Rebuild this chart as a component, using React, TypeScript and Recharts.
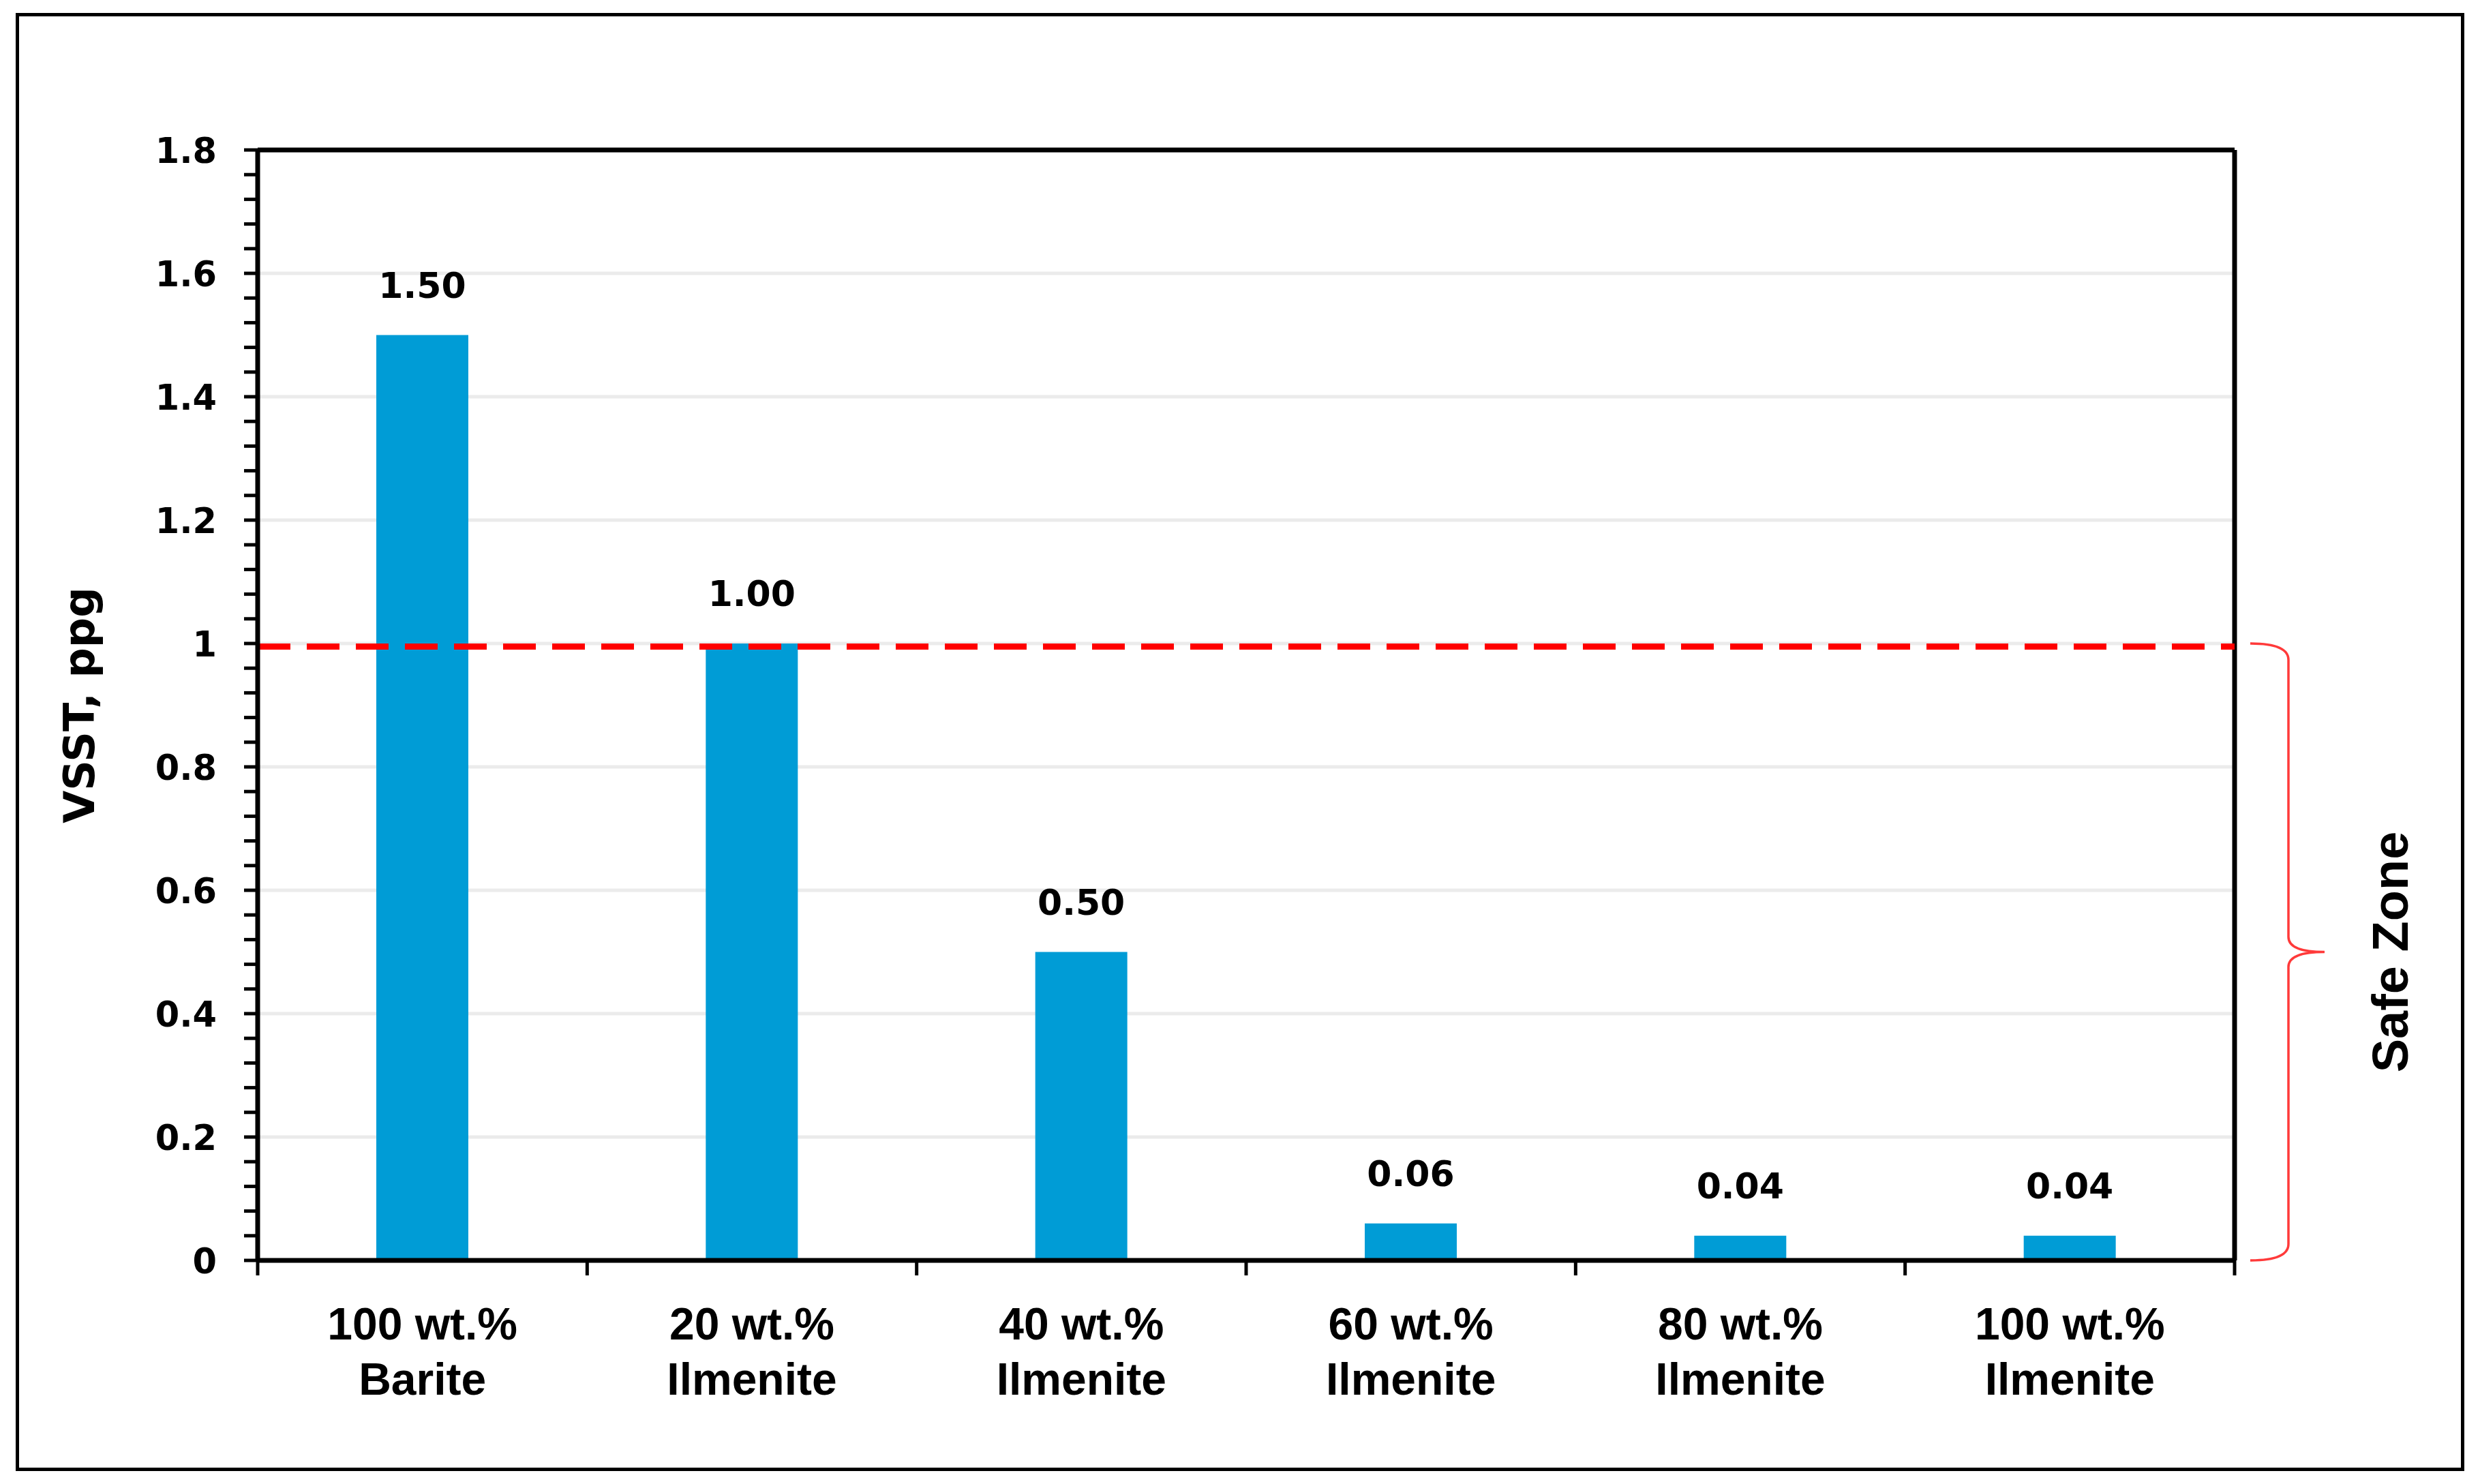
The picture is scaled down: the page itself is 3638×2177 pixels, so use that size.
import React from 'react';
import { BarChart, Bar, XAxis, YAxis, CartesianGrid, ReferenceLine, ReferenceArea, LabelList, Label } from 'recharts';

// VSST of each weighting-material blend
const concentrations = ['100 wt.%', '20 wt.%', '40 wt.%', '60 wt.%', '80 wt.%', '100 wt.%'];
const materials = ['Barite', 'Ilmenite', 'Ilmenite', 'Ilmenite', 'Ilmenite', 'Ilmenite'];
const vsst = [1.5, 1.0, 0.5, 0.06, 0.04, 0.04];

const majorTicks = [0, 0.2, 0.4, 0.6, 0.8, 1, 1.2, 1.4, 1.6, 1.8];
const minorTicks = Array.from({ length: 46 }, (_, i) => Math.round(i * 4) / 100).filter((t) => !majorTicks.includes(t));
const safeLimit = 1;
const yMax = 1.8;

const data = vsst.map((v, i) => ({ name: `${concentrations[i]}|${materials[i]}`, value: v }));

const W = 3622;
const H = 2160;
const NUM_FONT = '"DejaVu Sans", Verdana, sans-serif';
const NARROW_FONT = '"Liberation Sans Narrow", "Liberation Sans", Arial, sans-serif';

const XTick = ({ x, y, payload }: any) => {
  const [a, b] = String(payload.value).split('|');
  return (
    <g>
      <text x={x} y={y + 114} textAnchor="middle" fontFamily={NARROW_FONT} fontWeight="bold" fontSize={66} fill="#000">
        {a}
      </text>
      <text x={x} y={y + 195} textAnchor="middle" fontFamily={NARROW_FONT} fontWeight="bold" fontSize={66} fill="#000">
        {b}
      </text>
    </g>
  );
};

const YTick = ({ x, y, payload }: any) => (
  <text x={x} y={y} dy={19} textAnchor="end" fontFamily={NUM_FONT} fontWeight="bold" fontSize={51} fill="#000">
    {String(payload.value)}
  </text>
);

// short minor tick to the left of the y axis
const MinorTick = (p: any) => {
  const left = Math.min(p.x1, p.x2);
  return <line x1={left - 20} x2={left} y1={p.y1} y2={p.y1} stroke="#000" strokeWidth={5} />;
};

// category boundary ticks under the x axis
const EdgeTick = (p: any) => {
  const bottom = Math.max(p.y1, p.y2);
  return <line x1={p.x1} x2={p.x1} y1={bottom} y2={bottom + 22} stroke="#000" strokeWidth={5} />;
};

const Brace = ({ x, y, width, height }: any) => {
  const r = x + width;
  const t = y;
  const b = y + height;
  const m = (t + b) / 2;
  const s = r + 23;
  const v = r + 79;
  const tip = r + 132;
  const d = `M${s},${t} Q${v},${t} ${v},${t + 24} L${v},${m - 22} Q${v},${m} ${tip},${m} Q${v},${m} ${v},${m + 22} L${v},${b - 24} Q${v},${b} ${s},${b}`;
  const tx = r + 228;
  return (
    <g>
      <path d={d} fill="none" stroke="#FF3A3A" strokeWidth={3.5} />
      <text
        x={tx}
        y={m}
        dy="0.35em"
        transform={`rotate(-90 ${tx} ${m})`}
        textAnchor="middle"
        fontFamily={NARROW_FONT}
        fontWeight="bold"
        fontSize={74}
        fill="#000"
      >
        Safe Zone
      </text>
    </g>
  );
};

const YTitle = ({ viewBox }: any) => {
  const cx = viewBox.x + 38;
  const cy = viewBox.y + viewBox.height / 2;
  return (
    <text
      x={cx}
      y={cy}
      dy="0.35em"
      transform={`rotate(-90 ${cx} ${cy})`}
      textAnchor="middle"
      fontFamily={NUM_FONT}
      fontWeight="bold"
      fontSize={62}
      fill="#000"
    >
      VSST, ppg
    </text>
  );
};

export default function App() {
  const last = data[data.length - 1].name;
  return (
    <div style={{ position: 'relative', width: W, height: H }}>
      <div
        style={{
          position: 'absolute',
          left: 15,
          top: 11,
          width: 3592,
          height: 2139,
          border: '5px solid #000',
          boxSizing: 'border-box',
        }}
      />
      <BarChart
        width={W}
        height={H}
        data={data}
        margin={{ top: 212, right: 352, bottom: 119, left: 70 }}
        barCategoryGap="36%"
        style={{ position: 'absolute', left: 0, top: 0 }}
      >
        <CartesianGrid vertical={false} stroke="#EBEBEB" strokeWidth={5} />
        <XAxis
          dataKey="name"
          interval={0}
          tickLine={false}
          tickSize={0}
          height={200}
          tick={<XTick />}
          axisLine={{ stroke: '#000', strokeWidth: 7 }}
        />
        <YAxis
          domain={[0, yMax]}
          ticks={majorTicks}
          interval={0}
          width={300}
          tickSize={20}
          tickMargin={40}
          tickLine={{ stroke: '#000', strokeWidth: 5 }}
          axisLine={{ stroke: '#000', strokeWidth: 7 }}
          tick={<YTick />}
        >
          <Label content={<YTitle />} />
        </YAxis>
        <Bar dataKey="value" fill="#009CD6" isAnimationActive={false}>
          <LabelList
            dataKey="value"
            position="top"
            offset={55}
            formatter={(v: any) => Number(v).toFixed(2)}
            fill="#000"
            fontFamily={NUM_FONT}
            fontWeight="bold"
            fontSize={52}
          />
        </Bar>
        {minorTicks.map((t) => (
          <ReferenceLine key={`minor-${t}`} y={t} shape={<MinorTick />} />
        ))}
        {data.map((d) => (
          <ReferenceLine key={`edge-${d.name}`} x={d.name} position="start" shape={<EdgeTick />} />
        ))}
        <ReferenceLine x={last} position="end" shape={<EdgeTick />} />
        <ReferenceLine y={yMax} stroke="#000" strokeWidth={7} />
        <ReferenceLine x={last} position="end" stroke="#000" strokeWidth={7} />
        <ReferenceLine y={0.995} stroke="#FF0000" strokeWidth={9} strokeDasharray="48 24" />
        <ReferenceArea y1={0} y2={safeLimit} fill="none" stroke="none" shape={<Brace />} />
      </BarChart>
    </div>
  );
}
